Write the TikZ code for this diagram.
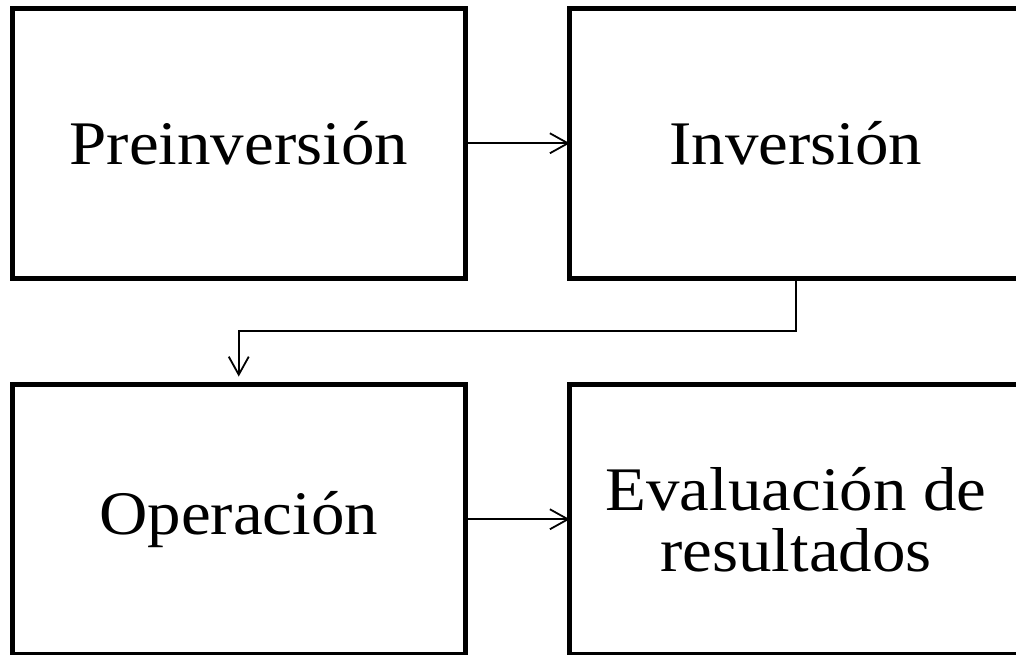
\documentclass[tikz,border=0pt]{standalone}
\usepackage{fontspec}
\setmainfont{Liberation Serif}[FakeStretch=1.08]
\usetikzlibrary{arrows.meta}
\begin{document}
\begin{tikzpicture}[x=0.5pt,y=-0.5pt,
  stage/.style={draw=black, line width=2.5pt, minimum width=226.25pt,
    minimum height=134.75pt, outer sep=0pt, inner sep=0pt, align=center,
    font=\fontsize{31pt}{30.5pt}\selectfont},
  link/.style={line width=0.9pt, -{Straight Barb[length=9pt,width=10pt,line width=0.9pt]}}]
  \useasboundingbox (0,0) rectangle (1016,654);
  \clip (0,0) rectangle (1016,654);
  \node[stage] (pre) at (238.75,143.25) {Preinversión};
  \node[stage] (inv) at (796,143.25) {Inversión};
  \node[stage] (ope) at (238.75,519.25) {Operación};
  \node[stage] (eva) at (796,519.25) {Evaluación de\\resultados};
  \coordinate (bend) at (796,331);
  \draw[link] (pre.east) -- (inv.west);
  \draw[link] (ope.east) -- (eva.west);
  \draw[link] (inv.south) -- (bend) -- (bend -| ope.north) -- ([yshift=4pt]ope.north);
\end{tikzpicture}
\end{document}
